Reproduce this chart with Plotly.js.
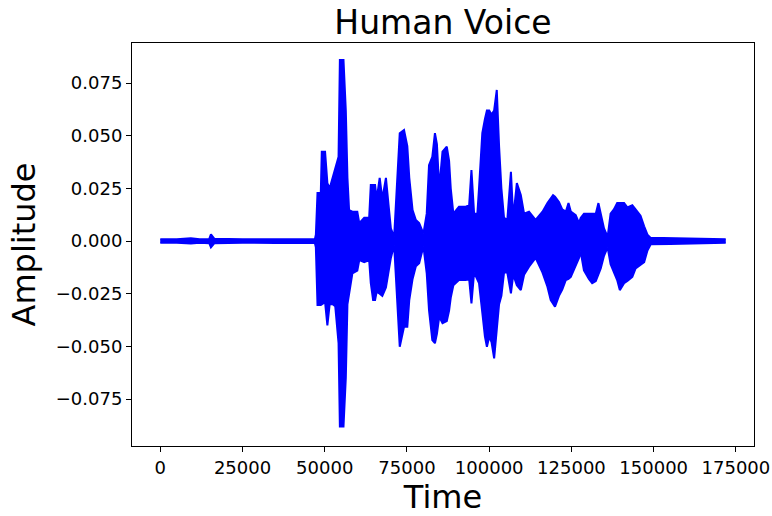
<!DOCTYPE html>
<html>
<head>
<meta charset="utf-8">
<script src="https://cdn.plot.ly/plotly-3.0.1.min.js"></script>
<style>html,body{margin:0;padding:0;background:#fff;}#chart{width:772px;height:516px;}</style>
</head>
<body>
<div id="chart"></div>
<script>
// Envelope of the waveform: sample index, upper and lower amplitude
var time = [0,5000,9300,12000,14900,15400,16400,25000,35000,47000,
  47300,47800,48800,49100,50100,50800,51500,52400,53200,54200,
  54600,55700,56400,56900,57400,58400,59900,60500,62000,63500,
  64000,64700,65300,65800,66700,67500,68600,69400,70100,71100,
  72100,72800,74100,75100,75700,76700,77700,78700,80000,81000,
  81700,82700,83500,84100,84800,85800,87100,87800,88300,89100,
  90800,92900,93900,94600,95400,96400,96900,97900,98700,99300,
  100000,100700,101500,102300,103000,103700,104500,105500,106600,107300,
  108400,109600,110600,112100,114100,116200,117700,118700,119400,120000,
  121200,122200,123300,124100,124800,126300,127300,127800,128800,130300,
  131300,132400,133200,133900,134900,136000,136900,137900,138900,139700,
  141000,142000,143500,144500,146000,147100,148100,149100,155000,165000,
  171900];
var upper = [0.0008,0.0008,0.0013,0.0008,0.0010,0.0032,0.0011,0.0008,0.0009,0.0009,
  0.0030,0.0228,0.0228,0.0424,0.0424,0.0275,0.0250,0.0300,0.0353,0.0400,
  0.0859,0.0859,0.0620,0.0300,0.0147,0.0139,0.0139,0.0085,0.0110,0.0110,
  0.0266,0.0266,0.0266,0.0200,0.0300,0.0200,0.0300,0.0170,0.0060,0.0020,
  0.0350,0.0512,0.0527,0.0450,0.0300,0.0147,0.0100,0.0085,0.0035,0.0130,
  0.0360,0.0400,0.0512,0.0460,0.0250,0.0424,0.0448,0.0380,0.0250,0.0130,
  0.0163,0.0163,0.0170,0.0337,0.0130,0.0130,0.0250,0.0512,0.0580,0.0620,
  0.0620,0.0600,0.0620,0.0717,0.0450,0.0250,0.0110,0.0100,0.0329,0.0110,
  0.0275,0.0218,0.0130,0.0139,0.0100,0.0139,0.0180,0.0200,0.0218,0.0210,
  0.0185,0.0150,0.0140,0.0180,0.0140,0.0123,0.0085,0.0110,0.0130,0.0130,
  0.0130,0.0130,0.0180,0.0130,0.0060,0.0020,0.0130,0.0150,0.0180,0.0180,
  0.0180,0.0160,0.0170,0.0150,0.0120,0.0070,0.0030,0.0015,0.0014,0.0010,
  0.0008];
var lower = [-0.0008,-0.0008,-0.0012,-0.0008,-0.0010,-0.0030,-0.0011,-0.0008,-0.0009,-0.0009,
  -0.0030,-0.0304,-0.0304,-0.0300,-0.0290,-0.0400,-0.0300,-0.0300,-0.0310,-0.0485,
  -0.0881,-0.0881,-0.0650,-0.0300,-0.0248,-0.0153,-0.0140,-0.0090,-0.0100,-0.0090,
  -0.0200,-0.0280,-0.0280,-0.0240,-0.0250,-0.0260,-0.0220,-0.0150,-0.0080,-0.0020,
  -0.0280,-0.0502,-0.0407,-0.0407,-0.0280,-0.0180,-0.0120,-0.0105,-0.0025,-0.0153,
  -0.0328,-0.0470,-0.0485,-0.0440,-0.0360,-0.0390,-0.0380,-0.0330,-0.0270,-0.0210,
  -0.0185,-0.0185,-0.0180,-0.0296,-0.0150,-0.0180,-0.0200,-0.0340,-0.0454,-0.0502,
  -0.0454,-0.0480,-0.0557,-0.0420,-0.0300,-0.0260,-0.0150,-0.0150,-0.0248,-0.0160,
  -0.0210,-0.0233,-0.0160,-0.0122,-0.0080,-0.0150,-0.0217,-0.0280,-0.0300,-0.0312,
  -0.0260,-0.0230,-0.0185,-0.0180,-0.0170,-0.0120,-0.0080,-0.0050,-0.0140,-0.0180,
  -0.0200,-0.0190,-0.0160,-0.0130,-0.0070,-0.0030,-0.0110,-0.0150,-0.0185,-0.0233,
  -0.0200,-0.0190,-0.0170,-0.0130,-0.0110,-0.0100,-0.0045,-0.0015,-0.0014,-0.0010,
  -0.0008];
var xTicks = [0,25000,50000,75000,100000,125000,150000,175000];
var yTicks = [-0.075,-0.05,-0.025,0,0.025,0.05,0.075];

var blue = '#0000ff';
var traces = [
  {x: time, y: upper, type: 'scatter', mode: 'lines', line: {color: blue, width: 2}, hoverinfo: 'skip', showlegend: false},
  {x: time, y: lower, type: 'scatter', mode: 'lines', fill: 'tonexty', fillcolor: blue, line: {color: blue, width: 2}, hoverinfo: 'skip', showlegend: false}
];
var font = 'DejaVu Sans, sans-serif';
var layout = {
  width: 772, height: 516,
  margin: {l: 132, r: 18, t: 43, b: 70},
  paper_bgcolor: '#fff', plot_bgcolor: '#fff',
  font: {family: font, color: '#000'},
  title: {text: 'Human Voice', font: {size: 33, family: font, color: '#000'}, x: 0.5, xref: 'paper', xanchor: 'center', y: 1 - 22/516, yref: 'container', yanchor: 'middle'},
  xaxis: {
    range: [-8595, 180495], tickvals: xTicks, ticktext: xTicks.map(String),
    showgrid: false, zeroline: false, showline: true, mirror: true, linecolor: '#000', linewidth: 1,
    ticks: 'outside', ticklen: 5, tickwidth: 1, tickcolor: '#000',
    tickfont: {size: 18, family: font, color: '#000'},
    title: {text: 'Time', font: {size: 32, family: font, color: '#000'}, standoff: 6}
  },
  yaxis: {
    range: [-0.0973, 0.094], tickvals: yTicks, ticktext: yTicks.map(function(v){return (v < 0 ? '\u2212' : '') + Math.abs(v).toFixed(3);}),
    showgrid: false, zeroline: false, showline: true, mirror: true, linecolor: '#000', linewidth: 1,
    ticks: 'outside', ticklen: 5, tickwidth: 1, tickcolor: '#000',
    tickfont: {size: 18, family: font, color: '#000'},
    title: {text: 'Amplitude', font: {size: 32, family: font, color: '#000'}, standoff: 10}
  }
};
Plotly.newPlot('chart', traces, layout, {displayModeBar: false, staticPlot: true});
</script>
</body>
</html>
